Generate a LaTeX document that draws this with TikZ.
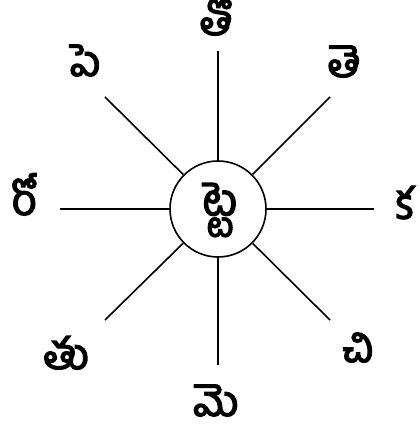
\documentclass[tikz,border=0pt]{standalone}
\usepackage{fontspec}
\newfontfamily\telugu[Script=Telugu, FakeBold=3]{Hind Guntur}
\begin{document}
\begin{tikzpicture}[x=1pt, y=-1pt,
    spoke/.style = {line width=1.6pt},
    hub/.style = {circle, draw, line width=1.6pt, minimum size=96pt, inner sep=0pt},
    syl/.style = {font=\telugu\fontsize{43}{43}\selectfont, inner sep=0pt, text height=20pt, text depth=4pt}]
    \useasboundingbox (0,0) rectangle (419,427);

    \node[hub] (c) at (218,209) {};
    \node[font=\telugu\fontsize{44}{44}\selectfont, inner sep=0pt] (ct) at (220,210) {ట్టె};

    % ends of the spokes
    \coordinate (n)  at (218,51);
    \coordinate (ne) at (330,97);
    \coordinate (e)  at (374,209);
    \coordinate (se) at (330,320);
    \coordinate (s)  at (218,365);
    \coordinate (sw) at (105,320);
    \coordinate (w)  at (60,209);
    \coordinate (nw) at (105,97);

    \draw[spoke] (c) -- (n);
    \draw[spoke] (c) -- (ne);
    \draw[spoke] (c) -- (e);
    \draw[spoke] (c) -- (se);
    \draw[spoke] (c) -- (s);
    \draw[spoke] (c) -- (sw);
    \draw[spoke] (c) -- (w);
    \draw[spoke] (c) -- (nw);

    \node[syl] (ln)  at (216,27)  {తో};
    \node[syl] (lne) at (344,69)  {తె};
    \node[syl] (le)  at (405,211) {క};
    \node[syl] (lse) at (358,354) {చి};
    \node[syl] (ls)  at (216,408) {మె};
    \node[syl] (lsw) at (66,361)  {తు};
    \node[syl] (lw)  at (24,207)  {రో};
    \node[syl] (lnw) at (85,68)   {పె};
\end{tikzpicture}
\end{document}
